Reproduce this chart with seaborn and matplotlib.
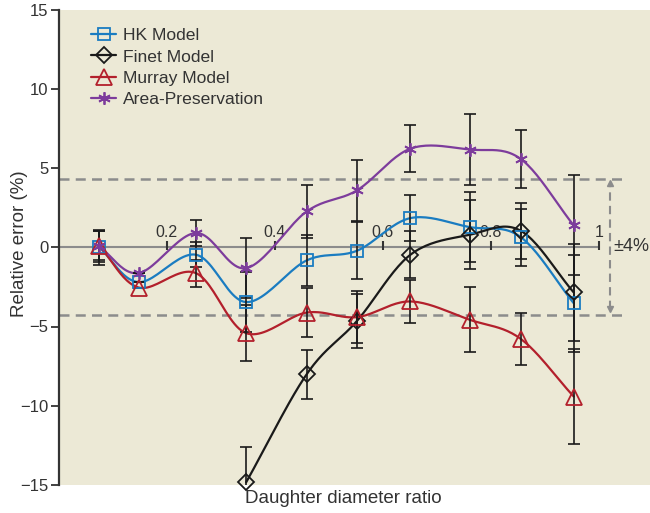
import numpy as np
import pandas as pd
import seaborn as sns
import matplotlib
matplotlib.use('Agg')
import matplotlib.pyplot as plt
from matplotlib.lines import Line2D

sns.set_theme(style='ticks')
plt.rcParams['font.family'] = ['Liberation Sans', 'DejaVu Sans']
narrow = ['Liberation Sans Narrow', 'Liberation Sans', 'DejaVu Sans']

# data
ratio = [0.075, 0.148, 0.254, 0.347, 0.459, 0.552, 0.651, 0.761, 0.855, 0.953]
hk = [0.0, -2.2, -0.47, -3.46, -0.83, -0.22, 1.84, 1.27, 0.64, -3.53]
hk_err = [1.1, 0, 0.8, 1.9, 1.62, 1.8, 1.45, 2.2, 1.8, 3.07]
finet = [np.nan, np.nan, np.nan, -14.83, -8.01, -4.65, -0.47, 0.79, 1.04, -2.85]
finet_err = [np.nan, np.nan, np.nan, 2.2, 1.55, 1.7, 1.5, 2.17, 1.75, 3.05]
murray = [0.1, -2.54, -1.63, -5.42, -4.12, -4.41, -3.42, -4.58, -5.78, -9.42]
murray_err = [0.9, 0, 0.85, 1.75, 1.55, 1.65, 1.35, 2.05, 1.65, 3.0]
area = [0.05, -1.63, 0.9, -1.32, 2.26, 3.59, 6.22, 6.16, 5.57, 1.38]
area_err = [1.0, 0, 0.85, 1.9, 1.68, 1.94, 1.5, 2.25, 1.85, 3.15]

band = [4.3, -4.25]
inner_ticks = [0.2, 0.4, 0.6, 0.8, 1.0]
inner_labels = ['0.2', '0.4', '0.6', '0.8', '1']
yticks = [15, 10, 5, 0, -5, -10, -15]

series = [
    ('HK Model', hk, hk_err, '#1a7cc1', 's', 8.5),
    ('Finet Model', finet, finet_err, '#1a1a1a', 'D', 8),
    ('Murray Model', murray, murray_err, '#b3202c', '^', 11),
    ('Area-Preservation', area, area_err, '#7d3c9c', (6, 2, 0), 9),
]


def catmull(x, y, n=24):
    # smooth curve through the points (rendering only)
    p = np.column_stack([x, y])
    p = np.vstack([2 * p[0] - p[1], p, 2 * p[-1] - p[-2]])
    out = []
    t = np.linspace(0, 1, n)[:, None]
    for i in range(1, len(p) - 2):
        p0, p1, p2, p3 = p[i - 1], p[i], p[i + 1], p[i + 2]
        seg = 0.5 * ((2 * p1) + (-p0 + p2) * t +
                     (2 * p0 - 5 * p1 + 4 * p2 - p3) * t ** 2 +
                     (-p0 + 3 * p1 - 3 * p2 + p3) * t ** 3)
        out.append(seg if i == 1 else seg[1:])
    out = np.vstack(out)
    return out[:, 0], out[:, 1]


bg = '#ece9d6'
fig = plt.figure(figsize=(6.5, 5.13), dpi=100, facecolor='white')
ax = fig.add_axes([58.6 / 650, 28 / 513, 1 - 58.6 / 650, 475.5 / 513])
ax.set_facecolor(bg)

# reference band and zero line
for b in band:
    ax.plot([0, 1.051], [b, b], ls=(0, (4, 2.5)), color='#8c8c8c', lw=1.8, zorder=1)
ax.plot([0, 1.0], [0, 0], color='#8c8c8c', lw=1.5, zorder=1)
ax.vlines(inner_ticks, -0.15, 0.4, color='#333333', lw=1.5, zorder=2)
for t, lab in zip(inner_ticks, inner_labels):
    ax.text(t, 0.45, lab, ha='center', va='bottom', fontsize=11.5, color='#333333',
            family=narrow)

handles = []
for name, vals, errs, col, mk, ms in series:
    df = pd.DataFrame({'ratio': ratio, 'val': vals, 'err': errs}).dropna()
    sx, sy = catmull(df['ratio'].values, df['val'].values)
    sns.lineplot(x=sx, y=sy, sort=False, color=col, lw=1.6, ax=ax, zorder=3)
    ax.errorbar(df['ratio'], df['val'], yerr=df['err'], fmt='none', ecolor='#1a1a1a',
                elinewidth=1.2, capsize=4, capthick=1.2, zorder=4)
    filled = isinstance(mk, tuple)
    ax.plot(df['ratio'], df['val'], ls='none', marker=mk, ms=ms,
            mfc=col if filled else 'none', mec=col, mew=1.3, zorder=5, clip_on=False)
    handles.append((name, col, mk, ms, filled))

# legend entries with line + marker
leg_h = [Line2D([], [], color=c, lw=1.6, marker=m, ms=s, mfc=c if f else 'none', mec=c, mew=1.3)
         for _, c, m, s, f in handles]
ax.legend(leg_h, [h[0] for h in handles], loc='upper left', bbox_to_anchor=(0.028, 0.994),
          frameon=False, fontsize=12.6, handlelength=1.45, handletextpad=0.4,
          labelspacing=0.34, labelcolor='#333333')

# +-4% annotation
ax.vlines(1.021, -3.9, 4.05, color='#8c8c8c', lw=1.5, linestyles=(0, (4, 2.5)))
ax.plot([1.021], [4.05], marker='^', ms=5, color='#8c8c8c', ls='none')
ax.plot([1.021], [-3.9], marker='v', ms=5, color='#8c8c8c', ls='none')
ax.text(1.027, 0.06, '±4%', ha='left', va='center', fontsize=13, color='#333333')

ax.set_xlim(0, 591.4 / 540.5)
ax.set_ylim(-15, 15)
ax.set_yticks(yticks)
ax.set_yticklabels([str(v).replace('-', '\u2212') for v in yticks],
                   family=narrow, fontsize=12, color='#333333')
ax.set_xticks([])
ax.tick_params(axis='y', length=6, width=1.3, pad=1.5, color='#333333')
for s in ['top', 'right', 'bottom']:
    ax.spines[s].set_visible(False)
ax.spines['left'].set_linewidth(1.6)
ax.spines['left'].set_color('#333333')

ax.set_xlabel('Daughter diameter ratio', fontsize=13.5, color='#333333')
ax.xaxis.set_label_coords(0.481, -0.028)
ax.xaxis.label.set_va('center')
ax.set_ylabel('Relative error (%)', fontsize=13.5, color='#333333')
ax.yaxis.set_label_coords(-0.066, 0.508)
ax.yaxis.label.set_va('center')

fig.savefig('out.png', dpi=100, facecolor='white')
